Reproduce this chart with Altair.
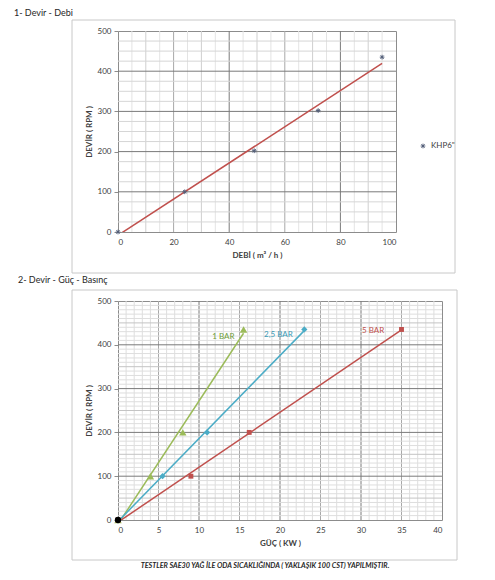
import altair as alt
import pandas as pd

# ---------------- data ----------------
# chart 1 : Devir - Debi
debi = [0, 24, 49, 72, 95]
devir1 = [0, 100, 202, 302, 435]
series1 = 'KHP6"'

# chart 2 : Devir - Güç - Basınç
series2 = ["1 BAR", "2,5 BAR", "5 BAR"]
guc_1bar = [0, 4, 8, 15.5]
guc_25bar = [0, 5.5, 11, 23]
guc_5bar = [0, 9, 16.2, 35]
devir2 = [0, 100, 200, 435]
origin_x = [0]
origin_y = [0]
label_x = [13.0, 19.8, 31.5]
label_y = [418, 422, 431]

# ticks
x1_ticks = [0, 20, 40, 60, 80, 100]
x2_ticks = [0, 5, 10, 15, 20, 25, 30, 35, 40]
y_ticks = [0, 100, 200, 300, 400, 500]

# grid lines (tick levels)
g1x_a = [5, 15, 25, 35, 45, 55, 65, 75, 85, 95]
g1x_b = [10, 30, 50, 70, 90]
g1x_c = [20, 60]
g1x_d = [40, 80]
g1y_a = [v for v in range(25, 500, 25) if v % 100]
g1y_d = [100, 200, 300, 400]
g2x_a = [v for v in range(1, 40) if v % 5]
g2x_c = [5, 15, 25, 35]
g2x_d = [10, 20, 30]
g2y_a = [v for v in range(10, 500, 10) if v % 50]
g2y_b = [50, 150, 250, 350, 450]
g2y_d = [100, 200, 300, 400]

colors2 = ["#9BBB59", "#4BACC6", "#C0504D"]
label_colors = ["#6E9E3A", "#3A9AB5", "#C0504D"]
shapes2 = ["triangle-up", "diamond", "square"]
sizes2 = [55, 24, 28]
ASTERISK = "M-1,0L1,0M0,-1L0,1M-0.7,-0.7L0.7,0.7M-0.7,0.7L0.7,-0.7"

FONT = "Lato"
TXT = "#404040"

df1 = pd.DataFrame({"debi": debi, "devir": devir1, "seri1": [series1] * len(debi)})
rows = []
for s, xs in zip(series2, [guc_1bar, guc_25bar, guc_5bar]):
    for xv, yv in zip(xs, devir2):
        rows.append({"guc": xv, "devir2": yv, "seri2": s})
df2 = pd.DataFrame(rows)
df_lab = pd.DataFrame({"guc": label_x, "devir2": label_y, "seri2": series2})
df_org = pd.DataFrame({"guc": origin_x, "devir2": origin_y})

one = alt.Data(values=[{}])

ax_y = dict(values=y_ticks, labelFont=FONT, labelFontSize=8, labelColor=TXT, titleFont=FONT,
            titleFontSize=8, titleFontWeight="bold", titleColor=TXT, grid=False, domain=False,
            ticks=True, tickSize=4, tickColor="#8c8c8c", labelPadding=3, titlePadding=4)
ax_x = dict(labelFont=FONT, labelFontSize=8, labelColor=TXT, titleFont=FONT,
            titleFontSize=8, titleFontWeight="bold", titleColor=TXT, grid=False, domain=False,
            ticks=False, labelPadding=6, titlePadding=5)

AX1X = alt.Axis(values=x1_ticks, title="DEBİ ( m³ / h )", **ax_x)
AX1Y = alt.Axis(title="DEVİR ( RPM )", **ax_y)
AX2X = alt.Axis(values=x2_ticks, title="GÜÇ ( KW )", **ax_x)
AX2Y = alt.Axis(title="DEVİR ( RPM )", **ax_y)


def vgrid(vals, color, field, scale, axis):
    return alt.Chart(pd.DataFrame({field: vals})).mark_rule(color=color, strokeWidth=1).encode(
        x=alt.X(f"{field}:Q", scale=scale, axis=axis))


def hgrid(vals, color, field, scale, axis):
    return alt.Chart(pd.DataFrame({field: vals})).mark_rule(color=color, strokeWidth=1).encode(
        y=alt.Y(f"{field}:Q", scale=scale, axis=axis))


def frame(x1, x2, y1, y2):
    return alt.Chart(one).mark_rect(fill="white", fillOpacity=0, stroke="#c8c8c8",
                                    strokeWidth=1).encode(
        x=alt.value(x1), x2=alt.value(x2), y=alt.value(y1), y2=alt.value(y2))


def label(text, x, y, size=9, align="left", **kw):
    return alt.Chart(one).mark_text(align=align, baseline="middle", font=FONT, fontSize=size,
                                    color="#262626", **kw).encode(
        x=alt.value(x), y=alt.value(y), text=alt.value(text))


# ---------------- chart 1 ----------------
W1, H1 = 278, 201
xs1 = alt.Scale(domain=[0, 100], nice=False)
ys1 = alt.Scale(domain=[0, 500], nice=False)

leg1 = dict(orient="none", legendX=301, legendY=111, title=None, labelFont=FONT,
            labelFontSize=8, labelColor=TXT, padding=0, symbolStrokeWidth=1, symbolSize=22)
pts1 = alt.Chart(df1).mark_point(filled=False, strokeWidth=1, size=22, opacity=1).encode(
    x=alt.X("debi:Q", scale=xs1, axis=AX1X),
    y=alt.Y("devir:Q", scale=ys1, axis=AX1Y),
    color=alt.Color("seri1:N", scale=alt.Scale(range=["#55607a"]), legend=alt.Legend(**leg1)),
    shape=alt.Shape("seri1:N", scale=alt.Scale(range=[ASTERISK]), legend=alt.Legend(**leg1)),
)
line1 = alt.Chart(df1).transform_regression("debi", "devir").mark_line(
    color="#C0504D", strokeWidth=1.5, clip=True).encode(
    x=alt.X("debi:Q", scale=xs1, axis=AX1X), y=alt.Y("devir:Q", scale=ys1, axis=AX1Y))

chart1 = alt.layer(
    frame(-46, 337, -11, 242),
    label("1- Devir - Debi", -104, -18),
    vgrid(g1x_a, "#e4e4e4", "debi", xs1, AX1X), vgrid(g1x_b, "#cfcfcf", "debi", xs1, AX1X),
    vgrid(g1x_c, "#a8a8a8", "debi", xs1, AX1X), vgrid(g1x_d, "#7a7a7a", "debi", xs1, AX1X),
    hgrid(g1y_a, "#d6d6d6", "devir", ys1, AX1Y), hgrid(g1y_d, "#7a7a7a", "devir", ys1, AX1Y),
    line1, pts1,
).properties(width=W1, height=H1)

# ---------------- chart 2 ----------------
W2, H2 = 324, 219
xs2 = alt.Scale(domain=[0, 40], nice=False)
ys2 = alt.Scale(domain=[0, 500], nice=False)
cs2 = alt.Scale(domain=series2, range=colors2)

line2 = alt.Chart(df2).transform_regression("guc", "devir2", groupby=["seri2"]).mark_line(
    strokeWidth=1.5, clip=True).encode(
    x=alt.X("guc:Q", scale=xs2, axis=AX2X), y=alt.Y("devir2:Q", scale=ys2, axis=AX2Y),
    color=alt.Color("seri2:N", scale=cs2, legend=None))
pts2 = alt.Chart(df2).mark_point(filled=True, opacity=1).encode(
    x=alt.X("guc:Q", scale=xs2, axis=AX2X),
    y=alt.Y("devir2:Q", scale=ys2, axis=AX2Y),
    color=alt.Color("seri2:N", scale=cs2, legend=None),
    shape=alt.Shape("seri2:N", scale=alt.Scale(domain=series2, range=shapes2), legend=None),
    size=alt.Size("seri2:N", scale=alt.Scale(domain=series2, range=sizes2), legend=None),
)
org2 = alt.Chart(df_org).mark_point(filled=True, opacity=1, color="black", size=40).encode(
    x=alt.X("guc:Q", scale=xs2, axis=AX2X), y=alt.Y("devir2:Q", scale=ys2, axis=AX2Y))
lab2 = alt.Chart(df_lab).mark_text(font=FONT, fontSize=8, align="center", baseline="middle").encode(
    x=alt.X("guc:Q", scale=xs2, axis=AX2X), y=alt.Y("devir2:Q", scale=ys2, axis=AX2Y),
    text="seri2:N",
    color=alt.Color("seri2:N", scale=alt.Scale(domain=series2, range=label_colors), legend=None))

chart2 = alt.layer(
    frame(-46, 339, -11, 259),
    label("2- Devir - Güç - Basınç", -100, -21),
    vgrid(g2x_a, "#dedede", "guc", xs2, AX2X), vgrid(g2x_c, "#a8a8a8", "guc", xs2, AX2X),
    vgrid(g2x_d, "#7a7a7a", "guc", xs2, AX2X),
    hgrid(g2y_a, "#dedede", "devir2", ys2, AX2Y), hgrid(g2y_b, "#c4c4c4", "devir2", ys2, AX2Y),
    hgrid(g2y_d, "#7a7a7a", "devir2", ys2, AX2Y),
    line2, pts2, org2, lab2,
    label("TESTLER SAE30 YAĞ İLE ODA SICAKLIĞINDA ( YAKLAŞIK 100 CST) YAPILMIŞTIR.", 147, 265,
          size=7.2, align="center", fontWeight="bold", fontStyle="italic"),
).properties(width=W2, height=H2).resolve_scale(color="independent")

chart = alt.vconcat(chart1, chart2, spacing=1).resolve_scale(
    color="independent", shape="independent", size="independent"
).configure_view(
    stroke="#8c8c8c", strokeWidth=1
).properties(
    padding={"left": 5, "top": 0, "right": 5, "bottom": 0},
    background="white",
)

chart.save("out.html", embed_options={"renderer": "svg", "actions": False})
